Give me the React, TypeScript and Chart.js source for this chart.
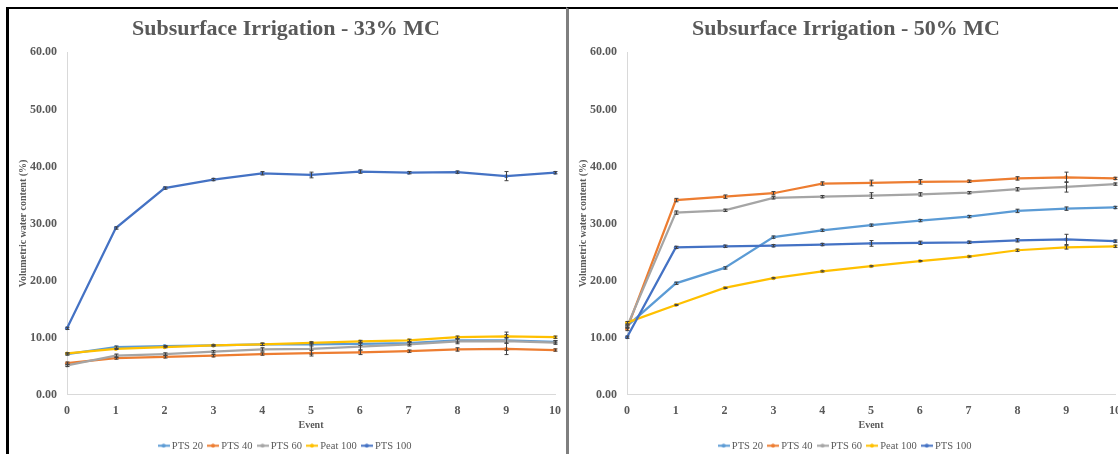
import React, { useEffect, useRef } from "react";
import { Chart, registerables } from "chart.js";

Chart.register(...registerables);

// ---------- data ----------
const events = ["0", "1", "2", "3", "4", "5", "6", "7", "8", "9", "10"];
const seriesNames = ["PTS 20", "PTS 40", "PTS 60", "Peat 100", "PTS 100"];
const seriesColors = ["#5B9BD5", "#ED7D31", "#A5A5A5", "#FFC000", "#4472C4"];
const yTicks = [0, 10, 20, 30, 40, 50, 60];

const title33 = "Subsurface Irrigation - 33% MC";
const mc33Pts20 = [7.1, 8.3, 8.5, 8.6, 8.8, 8.8, 8.9, 9.0, 9.5, 9.5, 9.25];
const mc33Pts40 = [5.5, 6.4, 6.6, 6.8, 7.1, 7.25, 7.4, 7.6, 7.9, 8.0, 7.8];
const mc33Pts60 = [5.1, 6.8, 7.1, 7.5, 7.9, 8.0, 8.4, 8.8, 9.3, 9.35, 9.1];
const mc33Peat100 = [7.2, 8.0, 8.3, 8.6, 8.8, 9.06, 9.3, 9.5, 10.05, 10.2, 10.05];
const mc33Pts100 = [11.6, 29.2, 36.2, 37.7, 38.8, 38.5, 39.1, 38.9, 39.0, 38.3, 38.9];

const mc33ErrPts20 = [0.2, 0.2, 0.1, 0.1, 0.2, 0.3, 0.3, 0.2, 0.3, 0.5, 0.2];
const mc33ErrPts40 = [0.2, 0.2, 0.2, 0.2, 0.2, 0.5, 0.4, 0.2, 0.3, 1.0, 0.2];
const mc33ErrPts60 = [0.2, 0.3, 0.2, 0.2, 0.3, 0.9, 0.6, 0.3, 0.4, 1.6, 0.3];
const mc33ErrPeat100 = [0.1, 0.1, 0.1, 0.1, 0.2, 0.2, 0.2, 0.2, 0.2, 0.3, 0.2];
const mc33ErrPts100 = [0.2, 0.2, 0.2, 0.2, 0.3, 0.5, 0.3, 0.2, 0.2, 0.8, 0.2];

const title50 = "Subsurface Irrigation - 50% MC";
const mc50Pts20 = [12.0, 19.5, 22.2, 27.6, 28.8, 29.7, 30.5, 31.2, 32.2, 32.6, 32.8];
const mc50Pts40 = [11.5, 34.1, 34.7, 35.3, 37.0, 37.1, 37.3, 37.4, 37.9, 38.1, 37.9];
const mc50Pts60 = [11.9, 31.9, 32.3, 34.5, 34.7, 34.9, 35.1, 35.4, 36.0, 36.4, 36.9];
const mc50Peat100 = [12.6, 15.7, 18.7, 20.4, 21.6, 22.5, 23.4, 24.2, 25.3, 25.8, 26.0];
const mc50Pts100 = [10.05, 25.8, 26.0, 26.1, 26.3, 26.5, 26.6, 26.7, 27.05, 27.2, 26.9];

const mc50ErrPts20 = [0.2, 0.2, 0.2, 0.2, 0.2, 0.2, 0.2, 0.2, 0.3, 0.3, 0.2];
const mc50ErrPts40 = [0.3, 0.3, 0.3, 0.3, 0.3, 0.5, 0.4, 0.2, 0.3, 0.9, 0.2];
const mc50ErrPts60 = [0.3, 0.3, 0.2, 0.2, 0.2, 0.5, 0.3, 0.2, 0.3, 0.9, 0.2];
const mc50ErrPeat100 = [0.2, 0.1, 0.1, 0.1, 0.1, 0.1, 0.1, 0.1, 0.2, 0.3, 0.2];
const mc50ErrPts100 = [0.2, 0.2, 0.2, 0.2, 0.2, 0.5, 0.3, 0.2, 0.3, 0.9, 0.2];

const yAxisTitle = "Volumetric water content (%)";
const xAxisTitle = "Event";

// ---------- helpers ----------
const FONT = "'Liberation Serif', 'Times New Roman', serif";
const TEXT = "#595959";

function legendSymbol(color: string) {
  const c = document.createElement("canvas");
  c.width = 12;
  c.height = 5;
  const g = c.getContext("2d")!;
  g.strokeStyle = color;
  g.lineWidth = 2;
  g.beginPath();
  g.moveTo(0, 2.5);
  g.lineTo(12, 2.5);
  g.stroke();
  g.fillStyle = color;
  g.beginPath();
  g.arc(6, 2.5, 2, 0, Math.PI * 2);
  g.fill();
  return c;
}

const errorBarPlugin = {
  id: "errorBars",
  afterDatasetsDraw(chart: any) {
    const ctx = chart.ctx;
    const yScale = chart.scales.y;
    ctx.save();
    ctx.strokeStyle = "#404040";
    ctx.lineWidth = 1;
    chart.data.datasets.forEach((ds: any, di: number) => {
      const meta = chart.getDatasetMeta(di);
      const errs: number[] = ds.errors || [];
      meta.data.forEach((pt: any, i: number) => {
        const e = errs[i];
        if (!e) return;
        const v = ds.data[i];
        const x = Math.round(pt.x) + 0.5;
        const y1 = yScale.getPixelForValue(v + e);
        const y2 = yScale.getPixelForValue(v - e);
        ctx.beginPath();
        ctx.moveTo(x, y1);
        ctx.lineTo(x, y2);
        ctx.moveTo(x - 2, y1);
        ctx.lineTo(x + 2, y1);
        ctx.moveTo(x - 2, y2);
        ctx.lineTo(x + 2, y2);
        ctx.stroke();
      });
    });
    ctx.restore();
  },
};

type PanelProps = {
  title: string;
  series: number[][];
  errors: number[][];
};

function Panel({ title, series, errors }: PanelProps) {
  const ref = useRef<HTMLCanvasElement>(null);
  useEffect(() => {
    if (!ref.current) return;
    const chart = new Chart(ref.current, {
      type: "line",
      data: {
        labels: events,
        datasets: series.map((d, i) => ({
          label: seriesNames[i],
          data: d,
          errors: errors[i],
          borderColor: seriesColors[i],
          backgroundColor: seriesColors[i],
          borderWidth: 2.25,
          pointRadius: 2,
          pointBorderWidth: 0,
          pointStyle: "circle",
          tension: 0,
          order: series.length - 1 - i,
        })) as any,
      },
      options: {
        responsive: false,
        animation: false,
        events: [],
        layout: { padding: { left: 8, right: 11, top: 0, bottom: -7 } },
        plugins: {
          title: {
            display: true,
            text: title,
            color: TEXT,
            font: { family: FONT, size: 22, weight: "bold", lineHeight: 1.2 },
            padding: { top: 7, bottom: 10 },
          },
          legend: {
            display: true,
            position: "bottom",
            labels: {
              color: TEXT,
              font: { family: FONT, size: 10.5 },
              usePointStyle: true,
              pointStyleWidth: 6,
              padding: 7,
              sort: (a: any, b: any) => a.datasetIndex - b.datasetIndex,
              generateLabels: (ch: any) =>
                ch.data.datasets.map((ds: any, i: number) => ({
                  text: ds.label,
                  fillStyle: ds.borderColor,
                  strokeStyle: ds.borderColor,
                  lineWidth: 0,
                  pointStyle: legendSymbol(ds.borderColor),
                  datasetIndex: i,
                  fontColor: TEXT,
                })),
            },
          },
          tooltip: { enabled: false },
        },
        scales: {
          x: {
            type: "category",
            offset: false,
            grid: { display: false, drawTicks: false },
            border: { display: true, color: "#D9D9D9", width: 1 },
            afterFit: (scale: any) => {
              scale.height = 39;
              scale.paddingRight = 6;
              scale.paddingLeft = 6;
            },
            ticks: {
              color: TEXT,
              font: { family: FONT, size: 12, weight: "bold" },
              padding: 9,
              maxRotation: 0,
              autoSkip: false,
            },
            title: {
              display: true,
              text: xAxisTitle,
              color: TEXT,
              font: { family: FONT, size: 10, weight: "bold" },
              padding: { top: 0, bottom: 2 },
            },
          },
          y: {
            min: 0,
            max: 60,
            grid: { display: false, drawTicks: false },
            border: { display: true, color: "#D9D9D9", width: 1 },
            afterBuildTicks: (scale: any) => {
              scale.ticks = yTicks.map((v) => ({ value: v }));
            },
            afterFit: (scale: any) => {
              scale.width = 50;
            },
            ticks: {
              color: TEXT,
              font: { family: FONT, size: 12, weight: "bold" },
              padding: 10,
              callback: (v: any) => Number(v).toFixed(2),
            },
            title: {
              display: true,
              text: yAxisTitle,
              color: TEXT,
              font: { family: FONT, size: 10, weight: "bold" },
              padding: { top: 0, bottom: 0 },
            },
          },
        },
      } as any,
      plugins: [errorBarPlugin],
    });
    return () => chart.destroy();
  }, [title, series, errors]);
  return <canvas ref={ref} width={557} height={445} style={{ display: "block" }} />;
}

const leftSeries = [mc33Pts20, mc33Pts40, mc33Pts60, mc33Peat100, mc33Pts100];
const leftErrors = [mc33ErrPts20, mc33ErrPts40, mc33ErrPts60, mc33ErrPeat100, mc33ErrPts100];
const rightSeries = [mc50Pts20, mc50Pts40, mc50Pts60, mc50Peat100, mc50Pts100];
const rightErrors = [mc50ErrPts20, mc50ErrPts40, mc50ErrPts60, mc50ErrPeat100, mc50ErrPts100];

export default function App() {
  return (
    <div
      style={{
        position: "fixed",
        left: 6,
        top: 7,
        width: 1112,
        height: 447,
        overflow: "hidden",
        background: "#fff",
      }}
    >
      <div
        style={{
          position: "absolute",
          left: 0,
          top: 0,
          width: 557,
          height: 460,
          borderLeft: "3px solid #000",
          borderTop: "2px solid #000",
        }}
      >
        <Panel title={title33} series={leftSeries} errors={leftErrors} />
      </div>
      <div
        style={{
          position: "absolute",
          left: 560,
          top: 0,
          width: 557,
          height: 460,
          borderLeft: "3px solid #7F7F7F",
          borderTop: "2px solid #000",
        }}
      >
        <Panel title={title50} series={rightSeries} errors={rightErrors} />
      </div>
    </div>
  );
}
